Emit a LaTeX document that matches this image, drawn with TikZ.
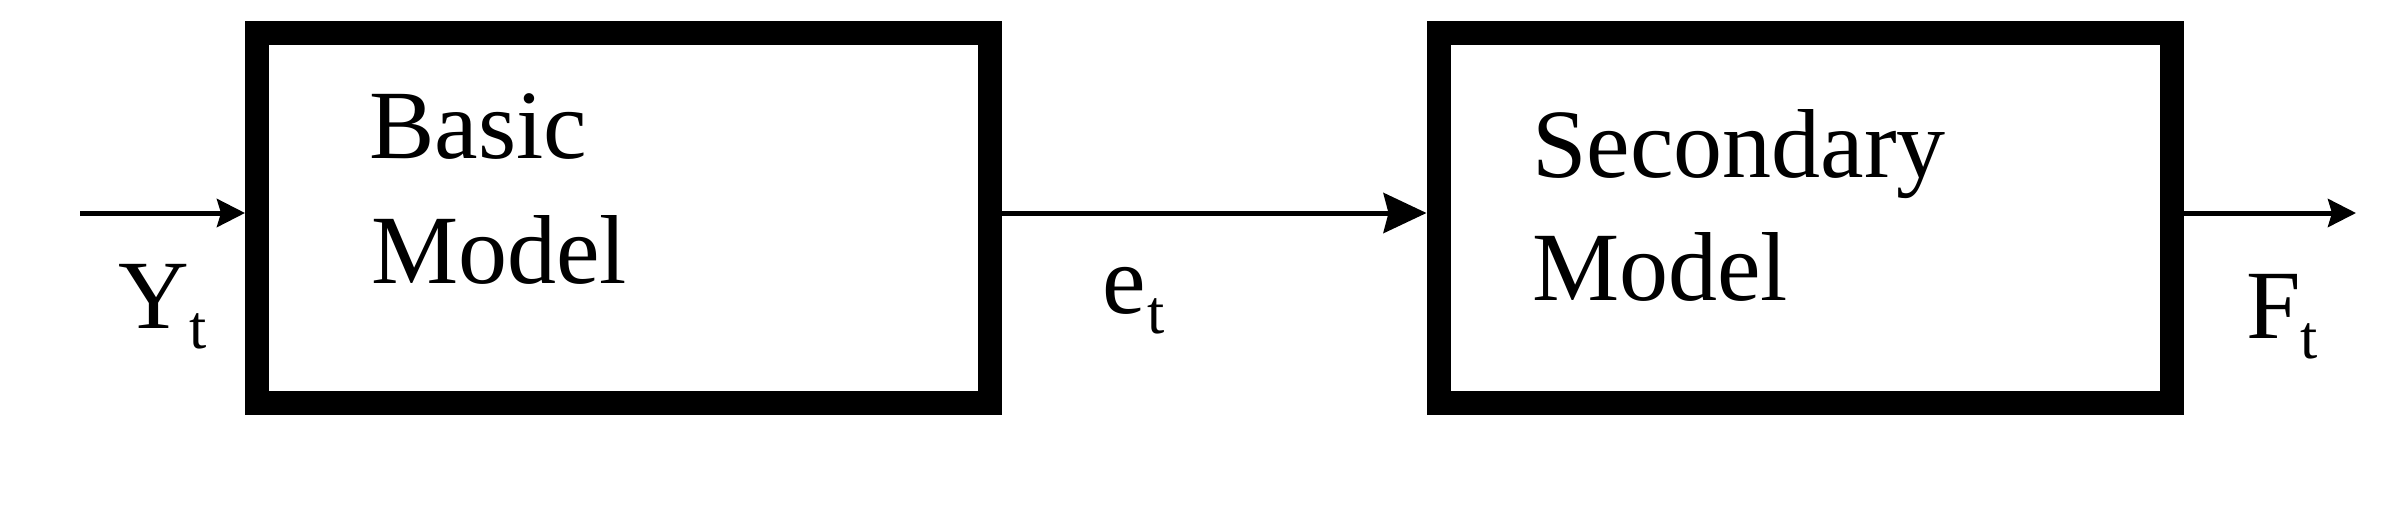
\documentclass[tikz,border=0pt]{standalone}
\usepackage{fontspec}
\setmainfont{Liberation Serif}
\usetikzlibrary{arrows.meta}
\newcommand{\bigtxt}{\fontsize{98pt}{118pt}\selectfont}
\newcommand{\subt}[1]{\raisebox{-20pt}{\fontsize{62pt}{62pt}\selectfont #1}}
\tikzset{
  x=1pt, y=1pt,
  modelbox/.style={draw, line width=24pt, minimum width=733pt, minimum height=370pt, inner sep=0pt},
  txt/.style={anchor=base west, inner sep=0pt, font=\bigtxt},
  flow/.style={line width=5pt},
  bighead/.style={-{Stealth[length=43pt, width=40pt, inset=5pt]}},
  smallhead/.style={-{Stealth[length=28pt, width=28pt, inset=4pt]}},
}
\begin{document}
\begin{tikzpicture}
\useasboundingbox (0,0) rectangle (2405,-507);
\node[modelbox] (basic) at (623.5,-218) {};
\node[modelbox] (second) at (1805,-218) {};
\node[txt] (basicA) at (369,-158) {Basic};
\node[txt] (basicB) at (371,-283) {Model};
\node[txt] (secA) at (1532,-177) {Secondary};
\node[txt] (secB) at (1532,-300) {Model};
\coordinate (in) at (80,-213);
\coordinate (out) at (2356,-213);
\draw[flow, smallhead] (in) -- (in -| basic.west);
\draw[flow, bighead] (basic.east |- in) -- (second.west |- in);
\draw[flow, smallhead] (second.east |- out) -- (out);
\node[txt] (yt) at (118,-328) {Y\kern1pt\subt{t}};
\node[txt] (et) at (1102,-313) {e\kern2pt\subt{t}};
\node[txt] (ft) at (2246,-338) {F\kern0pt\subt{t}};
\end{tikzpicture}
\end{document}
